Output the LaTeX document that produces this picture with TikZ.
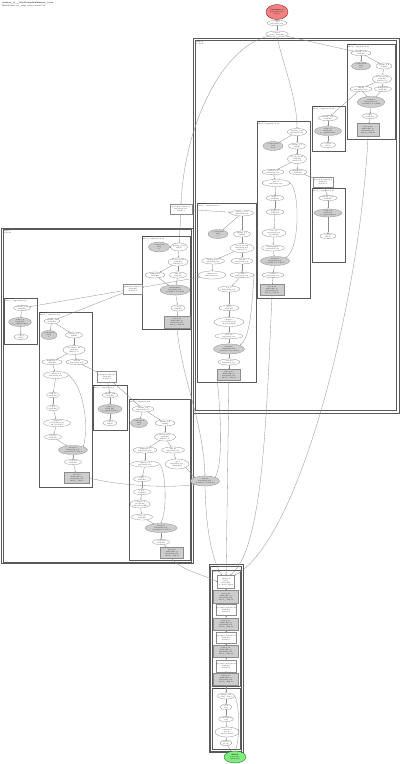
\documentclass[tikz,border=0pt]{standalone}
\usepackage{fontspec}
\usetikzlibrary{shapes.geometric}
\usetikzlibrary{arrows.meta}

\definecolor{edgegray}{RGB}{140,140,140}
\definecolor{clusgray}{RGB}{90,90,90}
\definecolor{fusgray}{RGB}{205,205,205}
\definecolor{parred}{RGB}{238,130,130}
\definecolor{rootgreen}{RGB}{130,235,130}

\tikzset{
  hlo/.style={font=\fontsize{1.6}{1.9}\selectfont, align=center, inner sep=0.2pt, draw=edgegray, line width=0.3pt},
  op/.style={hlo, ellipse, fill=white},
  fus/.style={hlo, ellipse, fill=fusgray},
  tup/.style={hlo, rectangle, fill=fusgray},
  opbox/.style={hlo, rectangle, fill=white},
  clus/.style={draw=clusgray, line width=0.6pt},
  clab/.style={font=\fontsize{1.6}{1.9}\selectfont, align=left, anchor=north west, inner sep=0.6pt},
  wire/.style={draw=edgegray, line width=0.3pt, -{Stealth[length=1.4pt,width=1.1pt]}},
}

\begin{document}
\begin{tikzpicture}[x=1pt,y=-1pt]
\useasboundingbox (0,0) rectangle (400,764);

\node[font=\fontsize{2}{2.4}\selectfont, anchor=north west, align=left, inner sep=0pt] (ttl) at (2,2) {\textbf{cluster\_0\_\_XlaCompiledKernel\_true}\\HloModule jit\_step, entry main.112};

% clusters
\draw[clus] (193,38) rectangle (399,413);
\draw[clus] (195.5,40.5) rectangle (396.5,410.5);
\node[clab] (lbB) at (195.5,40.5) {while.9\\body.47};
\draw[clus] (347,44) rectangle (395,139);
\node[clab] (lbB1) at (347,44) {fusion.21\\fused\_computation.21};
\draw[clus] (312,106) rectangle (345.5,151);
\node[clab] (lbB2) at (312,106) {fusion.20\\fused\_computation.20};
\draw[clus] (257,121) rectangle (310,298);
\node[clab] (lbB3) at (257,121) {fusion.18\\fused\_computation.18};
\draw[clus] (312,188) rectangle (345.5,262);
\node[clab] (lbB4) at (312,188) {fusion.17\\fused\_computation.17};
\draw[clus] (197.5,203) rectangle (256,382);
\node[clab] (lbB5) at (197.5,203) {fusion.15\\fused\_computation.15};

\draw[clus] (1.5,228) rectangle (193,563.5);
\draw[clus] (3,229.5) rectangle (191.5,562);
\node[clab] (lbC) at (3,229.5) {while.5\\body.23};
\draw[clus] (142,236) rectangle (190,329);
\node[clab] (lbC1) at (142,236) {fusion.11\\fused\_computation.11};
\draw[clus] (4.5,298) rectangle (37,344);
\node[clab] (lbC2) at (4.5,298) {fusion.10\\fused\_computation.10};
\draw[clus] (39,312) rectangle (92,487);
\node[clab] (lbC3) at (39,312) {fusion.8\\fused\_computation.8};
\draw[clus] (93,385) rectangle (127,430);
\node[clab] (lbC5) at (93,385) {fusion.6\\fused\_computation.6};
\draw[clus] (129,399) rectangle (190,560.5);
\node[clab] (lbC4) at (129,399) {fusion.4\\fused\_computation.4};

\draw[clus] (209,564.5) rectangle (243,752.5);
\draw[clus] (210.5,566) rectangle (241.5,751);
\node[clab] (lbD) at (210.5,566) {while.52};
\draw[clus] (212,570.5) rectangle (240,686);
\node[clab] (lbD1) at (212,570.5) {body.60};
\draw[clus] (212,688) rectangle (240,749.5);
\node[clab] (lbD2) at (212,688) {condition.61};

% entry
\node[op, fill=parred, draw=red!55!black, minimum width=22, minimum height=15] (prm) at (277,12) {\textbf{Parameter 0}\\f32[8,64]\{1,0\}\\arg0.1};
\node[op, minimum width=20, minimum height=5] (cpy) at (277,23) {copy.2\\f32[8,64]\{1,0\}};
\node[op, minimum width=20, minimum height=6] (tpl) at (277,34) {tuple.3\\(s32[], f32[8,64])};

% fusion.21
\node[op, minimum width=20, minimum height=5] (a1) at (361,53) {param\_0.21\\f32[8,64]};
\node[fus, minimum width=19, minimum height=8] (a2) at (361,66) {constant.44\\f32[]\\0.5};
\node[op, minimum width=16, minimum height=6] (a3) at (384,66) {param\_1.9\\f32[64]};
\node[op, minimum width=19, minimum height=7] (a4) at (382,79) {broadcast.30\\f32[8,64]\\dims=\{1\}};
\node[op, minimum width=22, minimum height=5] (a5) at (361,89) {add.61\\f32[8,64]\{1,0\}};
\node[op, minimum width=17, minimum height=5] (a6) at (383,89) {multiply.18\\f32[8,64]};
\node[fus, minimum width=26, minimum height=11] (a7) at (371,102) {tanh.12\\f32[8,64]\{1,0\}\\operand 0 = add.61};
\node[op, minimum width=15, minimum height=5] (a8) at (370,116) {exp.4\\f32[8,64]};
\node[tup, minimum width=22, minimum height=13] (a9) at (368,130) {fusion.21\\kind=kLoop\\f32[8,64]\{1,0\}\\fused\_comp.21};

% fusion.20
\node[op, minimum width=19, minimum height=5] (c1) at (328,118) {param\_0.20\\f32[8,64]};
\node[fus, minimum width=27, minimum height=9] (c2) at (328,131) {reduce.7\\f32[8]\{0\}\\to\_apply=add.5};
\node[op, minimum width=15, minimum height=5] (c3) at (328,145) {copy.11\\f32[8]};

% fusion.18
\node[op, minimum width=19, minimum height=7] (b1) at (297,132) {param\_0.18\\f32[8,64]\{1,0\}};
\node[fus, minimum width=20, minimum height=9] (b2) at (273,146) {constant.40\\f32[]\\1e-05};
\node[op, minimum width=17, minimum height=6] (b3) at (297,146) {param\_1.7\\f32[64]};
\node[op, minimum width=19, minimum height=9] (b4) at (297,159) {broadcast.27\\f32[8,64]\\dims=\{1\}};
\node[op, minimum width=22, minimum height=5] (b5) at (273,172) {subtract.9\\f32[8,64]\{1,0\}};
\node[op, minimum width=18, minimum height=5] (b6) at (298,172) {multiply.15\\f32[8,64]};
\node[op, minimum width=28, minimum height=7] (b7) at (276,183) {add.55\\f32[8,64]\{1,0\}};
\node[op, minimum width=18, minimum height=5] (b8) at (275,198) {rsqrt.3\\f32[8,64]};
\node[op, minimum width=18, minimum height=5] (b9) at (275,212) {negate.6\\f32[8,64]};
\node[op, minimum width=24, minimum height=7] (b10) at (274,233) {select.4\\f32[8,64]\{1,0\}\\pred[8,64]};
\node[op, minimum width=23, minimum height=6] (b11) at (273,248) {maximum.2\\f32[8,64]\{1,0\}};
\node[fus, minimum width=29, minimum height=9] (b12) at (275,261) {divide.8\\f32[8,64]\{1,0\}\\operand 1 = add.55};
\node[op, minimum width=22, minimum height=5] (b13) at (273,275) {convert.3\\f32[8,64]\{1,0\}};
\node[tup, minimum width=24, minimum height=11] (b14) at (272,290) {fusion.18\\kind=kLoop\\f32[8,64]\{1,0\}\\fused\_comp.18};

\node[opbox, minimum width=20, minimum height=10] (R4) at (323,182) {get-tuple-element.9\\f32[8,64]\\index=1};

% fusion.17
\node[op, minimum width=18, minimum height=5] (d1) at (328,198) {param\_0.17\\f32[8,64]};
\node[fus, minimum width=28, minimum height=8] (d2) at (328,213) {reduce.6\\f32[8]\{0\}\\to\_apply=max.4};
\node[op, minimum width=16, minimum height=5] (d3) at (328,236) {copy.10\\f32[8]};

\node[opbox, minimum width=22, minimum height=10] (R1) at (181,209) {get-tuple-element.4\\f32[8,64]\{1,0\}\\index=1};

% fusion.15
\node[op, minimum width=23, minimum height=6] (e1) at (242,213) {param\_0.15\\f32[8,64]\{1,0\}};
\node[fus, minimum width=20, minimum height=9] (e2) at (218,234) {constant.36\\f32[]\\2};
\node[op, minimum width=17, minimum height=6] (e3) at (242,234) {param\_1.5\\f32[64]};
\node[op, minimum width=24, minimum height=9] (e4) at (242,248) {broadcast.24\\f32[8,64]\{1,0\}\\dims=\{1\}};
\node[op, minimum width=23, minimum height=6] (e5) at (213,261) {multiply.12\\f32[8,64]\{1,0\}};
\node[op, minimum width=22, minimum height=6] (e6) at (242,261) {add.49\\f32[8,64]\{1,0\}};
\node[op, minimum width=28, minimum height=8] (e7) at (212,275) {subtract.7\\f32[8,64]\{1,0\}};
\node[op, minimum width=24, minimum height=5] (e8) at (242,275) {power.2\\f32[8,64]\{1,0\}};
\node[op, minimum width=22, minimum height=6] (e9) at (229,289) {log.3\\f32[8,64]\{1,0\}};
\node[op, minimum width=20, minimum height=5] (e10) at (229,308) {abs.2\\f32[8,64]};
\node[op, minimum width=30, minimum height=9] (e11) at (229,322) {compare.5\\pred[8,64]\{1,0\}\\direction=GT};
\node[op, minimum width=28, minimum height=5] (e12) at (229,336) {select.3\\f32[8,64]\{1,0\}};
\node[fus, minimum width=31, minimum height=10] (e13) at (229,349) {divide.6\\f32[8,64]\{1,0\}\\operand 0 = power.2};
\node[op, minimum width=22, minimum height=6] (e14) at (229,362) {convert.2\\f32[8,64]\{1,0\}};
\node[tup, minimum width=23, minimum height=11] (e15) at (229,375) {fusion.15\\kind=kLoop\\f32[8,64]\{1,0\}\\fused\_comp.15};

\node[opbox, minimum width=18, minimum height=10] (R2) at (133,289) {get-tuple-element.7\\f32[8,64]\\index=2};

% fusion.11
\node[fus, minimum width=21, minimum height=10] (r1) at (159,247) {constant.19\\f32[]\\0};
\node[op, minimum width=12, minimum height=8] (r2) at (179,247) {param\_0.11\\f32[8]};
\node[op, minimum width=20, minimum height=7] (r3) at (178,262) {broadcast.13\\f32[8,64]\\dims=\{0\}};
\node[op, minimum width=20, minimum height=6] (r4) at (155,275) {multiply.9\\f32[8,64]};
\node[op, minimum width=17, minimum height=6] (r5) at (178,275) {add.31\\f32[8,64]};
\node[fus, minimum width=30, minimum height=10] (r6) at (175,290) {maximum.5\\f32[8,64]\{1,0\}\\operand 1 = add.31};
\node[op, minimum width=14, minimum height=6] (r7) at (178,308) {copy.6\\f32[8,64]};
\node[tup, minimum width=26, minimum height=12] (r8) at (177,322) {fusion.11\\kind=kLoop\\f32[8,64]\{1,0\}\\fused\_comp.11};

% fusion.10
\node[op, minimum width=14, minimum height=5] (p1) at (22,308) {param\_0.10\\f32[8,64]};
\node[fus, minimum width=22, minimum height=9] (p2) at (20,322) {reduce.4\\f32[8]\{0\}\\to\_apply=add.3};
\node[op, minimum width=14, minimum height=5] (p3) at (21,337) {copy.5\\f32[8]};

% fusion.8
\node[op, minimum width=14, minimum height=5] (g1) at (52,321) {param\_0.8\\f32[8,64]};
\node[fus, minimum width=16, minimum height=9] (g2) at (49,335) {constant.15\\f32[]\\1};
\node[op, minimum width=17, minimum height=6] (g3) at (74,335) {param\_1.3\\f32[64]};
\node[op, minimum width=22, minimum height=9] (g4) at (74,350) {broadcast.10\\f32[8,64]\\dims=\{1\}};
\node[op, minimum width=20, minimum height=5] (g5) at (52,362) {multiply.7\\f32[8,64]};
\node[op, minimum width=22, minimum height=5] (g6) at (77,362) {add.22\\f32[8,64]\{1,0\}};
\node[op, minimum width=25, minimum height=7] (g7) at (56,375) {subtract.4\\f32[8,64]\{1,0\}};
\node[op, minimum width=13, minimum height=5] (g8) at (53,395) {exp.2\\f32[8,64]};
\node[op, minimum width=13, minimum height=5] (g9) at (53,408) {log.2\\f32[8,64]};
\node[op, minimum width=27, minimum height=7] (g10) at (57,423) {compare.3\\pred[8,64]\{1,0\}\\direction=LT};
\node[op, minimum width=17, minimum height=5] (g11) at (53,437) {select.2\\f32[8,64]};
\node[fus, minimum width=29, minimum height=9] (g12) at (73,450) {divide.4\\f32[8,64]\{1,0\}\\operand 0 = sub.4};
\node[op, minimum width=17, minimum height=5] (g13) at (73,462) {convert.1\\f32[8,64]};
\node[tup, minimum width=25, minimum height=11] (g14) at (77,478) {fusion.8\\kind=kLoop\\f32[8,64]\{1,0\}\\fused\_comp.8};

\node[opbox, minimum width=17, minimum height=11] (R3) at (107,377) {get-tuple-element.3\\f32[8,64]\\index=2};

% fusion.6
\node[op, minimum width=15, minimum height=5] (q1) at (110,395) {param\_0.6\\f32[8,64]};
\node[fus, minimum width=24, minimum height=9] (q2) at (110,409) {reduce.2\\f32[8]\{0\}\\to\_apply=max.1};
\node[op, minimum width=14, minimum height=5] (q3) at (110,423) {copy.3\\f32[8]};

% fusion.4
\node[op, minimum width=22, minimum height=6] (h1) at (143,409) {param\_0.4\\f32[8,64]\{1,0\}};
\node[fus, minimum width=17, minimum height=9] (h2) at (139,423) {constant.8\\f32[]\\0.1};
\node[op, minimum width=20, minimum height=6] (h3) at (165,423) {param\_1.2\\f32[64]};
\node[op, minimum width=21, minimum height=8] (h4) at (165,437) {broadcast.5\\f32[8,64]\\dims=\{1\}};
\node[op, minimum width=24, minimum height=6] (h5) at (145,450) {multiply.3\\f32[8,64]\{1,0\}};
\node[op, minimum width=23, minimum height=6] (h6) at (173,450) {add.11\\f32[8,64]\{1,0\}};
\node[op, minimum width=29, minimum height=6] (h7) at (145,464) {subtract.2\\f32[8,64]\{1,0\}};
\node[op, minimum width=24, minimum height=10] (h8) at (177,464) {copy.2\\f32[8,64]\{1,0\}\\(f32[8,64])};
\node[op, minimum width=17, minimum height=5] (h9) at (142,479) {exp.1\\f32[8,64]};
\node[op, minimum width=17, minimum height=5] (h10) at (142,492) {log.1\\f32[8,64]};
\node[op, minimum width=20, minimum height=8] (h11) at (140,504) {compare.1\\pred[8,64]\\direction=GE};
\node[op, minimum width=21, minimum height=6] (h12) at (142,517) {select.1\\f32[8,64]};
\node[fus, minimum width=32, minimum height=9] (h13) at (161,528) {divide.2\\f32[8,64]\{1,0\}\\operand 0 = sub.2};
\node[op, minimum width=17, minimum height=5] (h14) at (161,542) {convert.0\\f32[8,64]};
\node[tup, minimum width=23, minimum height=11] (h15) at (172,553) {fusion.4\\kind=kLoop\\f32[8,64]\{1,0\}\\fused\_comp.4};

\node[fus, minimum width=22, minimum height=10] (G1) at (205,481) {add.70\\f32[8,64]\{1,0\}\\operand 1 = fusion.8};

% while.52
\node[opbox, minimum width=17, minimum height=13] (k1) at (226,582) {while.52\\(s32[],\\f32[8,64])\\body=body.60};
\node[tup, minimum width=25, minimum height=13] (k2) at (226,597) {fusion.30\\kind=kLoop\\f32[8,64]\{1,0\}\\fused\_comp.30};
\node[opbox, minimum width=16, minimum height=11] (k3) at (226,610) {get-tuple-element.12\\f32[8,64]\\index=1};
\node[tup, minimum width=25, minimum height=12] (k4) at (226,624) {fusion.31\\kind=kLoop\\f32[8,64]\{1,0\}\\fused\_comp.31};
\node[opbox, minimum width=16, minimum height=11] (k5) at (226,638) {get-tuple-element.13\\f32[8,64]\\index=1};
\node[tup, minimum width=25, minimum height=12] (k6) at (226,651) {fusion.32\\kind=kLoop\\f32[8,64]\{1,0\}\\fused\_comp.32};
\node[opbox, minimum width=16, minimum height=12] (k7) at (226,666) {get-tuple-element.14\\f32[8,64]\\index=1};
\node[tup, minimum width=25, minimum height=12] (k8) at (226,679) {fusion.33\\kind=kLoop\\f32[8,64]\{1,0\}\\fused\_comp.33};
\node[op, minimum width=14, minimum height=6] (m1) at (226,696) {param\_0.2\\(s32[], f32[])};
\node[op, minimum width=12, minimum height=5] (m2) at (226,707) {gte.3\\s32[]};
\node[op, minimum width=12, minimum height=5] (m3) at (226,719) {constant.9\\s32[]};
\node[op, minimum width=24, minimum height=10] (m4) at (227,732) {compare.8\\pred[]\\direction=LT};
\node[op, minimum width=12, minimum height=5] (m5) at (226,743) {and.1\\pred[]};
\node[op, fill=rootgreen, draw=green!45!black, minimum width=22, minimum height=12] (root) at (235,757) {\textbf{ROOT}\\tuple.112\\(f32[8,64])};

% edges
\draw[wire] (prm) -- (cpy);
\draw[wire] (cpy) -- (tpl);
\draw[wire] (tpl) -- (a1);
\draw[wire] (tpl.south) .. controls (285,70) and (297,100) .. (b1.north);
\draw[wire] (tpl.south west) .. controls (225,45) and (185,120) .. (R1.north);

\draw[wire] (a1) -- (a2);
\draw[wire] (a1) -- (a3);
\draw[wire] (a3) -- (a4);
\draw[wire] (a4) -- (a5);
\draw[wire] (a4) -- (a6);
\draw[wire] (a5) -- (a7);
\draw[wire] (a6) -- (a7);
\draw[wire] (a7) -- (a8);
\draw[wire] (a8) -- (a9);
\draw[wire] (a5) -- (c1);
\draw[wire] (c1) -- (c2);
\draw[wire] (c2) -- (c3);

\draw[wire] (b1) -- (b2);
\draw[wire] (b1) -- (b3);
\draw[wire] (b3) -- (b4);
\draw[wire] (b4) -- (b5);
\draw[wire] (b4) -- (b6);
\draw[wire] (b5) -- (b7);
\draw[wire] (b6) -- (R4);
\draw[wire] (b7) -- (b8);
\draw[wire] (b8) -- (b9);
\draw[wire] (b9) -- (b10);
\draw[wire] (b10) -- (b11);
\draw[wire] (b11) -- (b12);
\draw[wire] (b12) -- (b13);
\draw[wire] (b13) -- (b14);
\draw[wire] (b7.east) .. controls (300,190) and (300,250) .. (b12.north east);
\draw[wire] (R4) -- (d1);
\draw[wire] (d1) -- (d2);
\draw[wire] (d2) -- (d3);

\draw[wire] (R1) -- (e1);
\draw[wire] (R1) -- (r2);
\draw[wire] (e1) -- (e2);
\draw[wire] (e1) -- (e3);
\draw[wire] (e3) -- (e4);
\draw[wire] (e4) -- (e5);
\draw[wire] (e4) -- (e6);
\draw[wire] (e5) -- (e7);
\draw[wire] (e6) -- (e8);
\draw[wire] (e8) -- (e9);
\draw[wire] (e9) -- (e10);
\draw[wire] (e10) -- (e11);
\draw[wire] (e11) -- (e12);
\draw[wire] (e12) -- (e13);
\draw[wire] (e13) -- (e14);
\draw[wire] (e14) -- (e15);
\draw[wire] (e8.east) .. controls (252,295) and (252,335) .. (e13.north east);
\draw[wire] (e7) -- (R2);

\draw[wire] (r2) -- (r1);
\draw[wire] (r2) -- (r3);
\draw[wire] (r3) -- (r4);
\draw[wire] (r3) -- (r5);
\draw[wire] (r4) -- (r6);
\draw[wire] (r5) -- (r6);
\draw[wire] (r6) -- (r7);
\draw[wire] (r7) -- (r8);

\draw[wire] (R2) -- (p1);
\draw[wire] (R2) -- (g1);
\draw[wire] (p1) -- (p2);
\draw[wire] (p2) -- (p3);

\draw[wire] (g1) -- (g2);
\draw[wire] (g1) -- (g3);
\draw[wire] (g3) -- (g4);
\draw[wire] (g4) -- (g5);
\draw[wire] (g4) -- (g6);
\draw[wire] (g5) -- (g7);
\draw[wire] (g6) -- (R3);
\draw[wire] (g7) -- (g8);
\draw[wire] (g8) -- (g9);
\draw[wire] (g9) -- (g10);
\draw[wire] (g10) -- (g11);
\draw[wire] (g11) -- (g12);
\draw[wire] (g12) -- (g13);
\draw[wire] (g13) -- (g14);
\draw[wire] (g7.east) .. controls (86,390) and (88,430) .. (g12.north east);

\draw[wire] (R3) -- (q1);
\draw[wire] (R3) -- (h1);
\draw[wire] (q1) -- (q2);
\draw[wire] (q2) -- (q3);

\draw[wire] (h1) -- (h2);
\draw[wire] (h1) -- (h3);
\draw[wire] (h3) -- (h4);
\draw[wire] (h4) -- (h5);
\draw[wire] (h4) -- (h6);
\draw[wire] (h5) -- (h7);
\draw[wire] (h6) -- (h8);
\draw[wire] (h7) -- (h9);
\draw[wire] (h9) -- (h10);
\draw[wire] (h10) -- (h11);
\draw[wire] (h11) -- (h12);
\draw[wire] (h12) -- (h13);
\draw[wire] (h13) -- (h14);
\draw[wire] (h14) -- (h15);
\draw[wire] (h7.east) .. controls (165,470) and (168,505) .. (h13.north);

\draw[wire] (g14.east) .. controls (120,486) and (170,488) .. (G1.south west);
\draw[wire] (h8.south east) -- (G1.north west);
\draw[wire] (r8.south) .. controls (182,380) and (203,420) .. (G1.north);
\draw[wire] (e15.south west) .. controls (221,420) and (223,460) .. (G1.north east);

\draw[wire] (e15) -- (k1);
\draw[wire] (G1.south) .. controls (206,530) and (212,560) .. ([xshift=-4pt]k1.north);
\draw[wire] (h15.south) .. controls (180,570) and (205,575) .. (k1.west);
\draw[wire] (b14.south) .. controls (266,430) and (262,550) .. ([xshift=4pt]k1.north);
\draw[wire] (a9.south) .. controls (360,300) and (300,540) .. (k1.north east);

\draw[wire] (k1) -- (k2);
\draw[wire] (k2) -- (k3);
\draw[wire] (k3) -- (k4);
\draw[wire] (k4) -- (k5);
\draw[wire] (k5) -- (k6);
\draw[wire] (k6) -- (k7);
\draw[wire] (k7) -- (k8);
\draw[wire] (k8) -- (m1);
\draw[wire] (m1) -- (m2);
\draw[wire] (m2) -- (m3);
\draw[wire] (m3) -- (m4);
\draw[wire] (m4) -- (m5);
\draw[wire] (m5) -- (root);
\draw[wire] (m1.east) .. controls (240,705) and (240,740) .. (root.north);

\end{tikzpicture}
\end{document}
